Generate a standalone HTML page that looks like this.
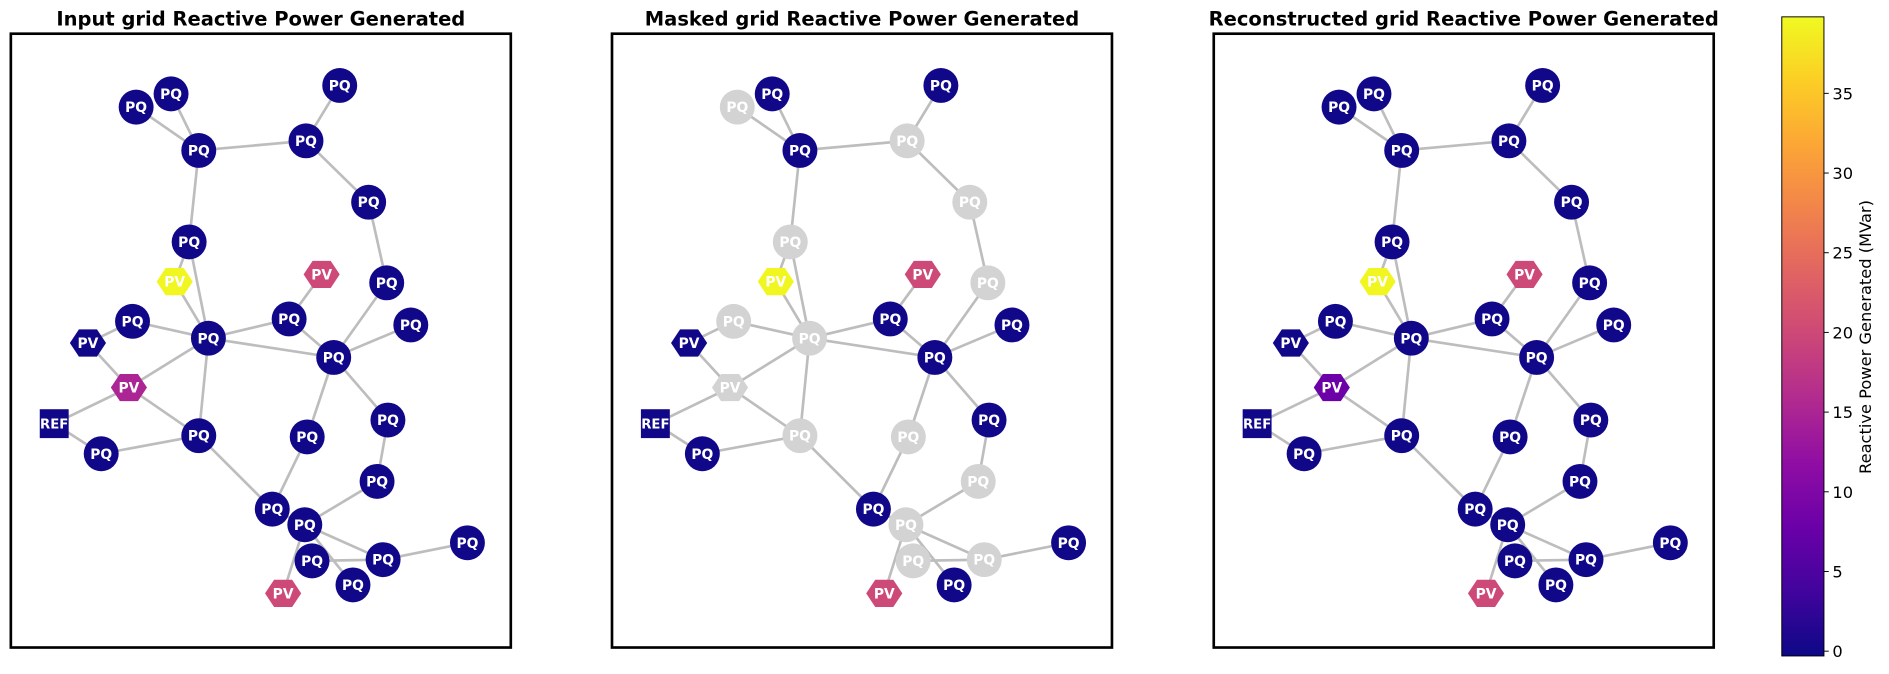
<!DOCTYPE html>
<html><head><meta charset="utf-8"><style>
html,body{margin:0;padding:0;background:#fff;}
svg{display:block;font-family:"DejaVu Sans","Liberation Sans",sans-serif;}
</style></head><body>
<svg id="chart" width="1889" height="674" viewBox="0 0 1568 560" preserveAspectRatio="none" xmlns="http://www.w3.org/2000/svg">
<defs>
<linearGradient id="plasma" x1="0" y1="1" x2="0" y2="0">
<stop offset="0" stop-color="#0d0887"/><stop offset="0.1" stop-color="#41049d"/><stop offset="0.2" stop-color="#6a00a8"/><stop offset="0.3" stop-color="#8f0da4"/><stop offset="0.4" stop-color="#b12a90"/><stop offset="0.5" stop-color="#cc4778"/><stop offset="0.6" stop-color="#e16462"/><stop offset="0.7" stop-color="#f2844b"/><stop offset="0.8" stop-color="#fca636"/><stop offset="0.9" stop-color="#fcce25"/><stop offset="1" stop-color="#f0f921"/>
</linearGradient>
</defs>
<g id="panels"></g>
<g id="cbar"></g>
</svg>
<script>
// node layout in the reference figure (graph layout, not data)
const nodeTypes = ["PQ","PQ","PQ","PQ","PQ","PQ","PQ","PV","PV","PQ","PQ","PV","PQ","PQ","PQ","PQ","PV","REF","PQ","PQ","PQ","PQ","PQ","PQ","PQ","PQ","PQ","PQ","PQ","PV"];
const layoutX = [113,142,165,254,282,306,157,145,267,321,110,73,173,240,341,277,107,45,84,165,255,322,313,226,253,259,318,388,293,235];
const layoutY = [89,78,125,117,71,168,201,234,228,235,267,285,281,265,270,297,322,352,377,362,363,349,400,423,436,466,465,451,486,493];
const edges = [[0,2],[1,2],[2,3],[3,4],[3,5],[2,6],[6,7],[6,12],[7,12],[10,12],[10,11],[11,16],[16,12],[16,17],[16,19],[17,18],[18,19],[12,19],[12,13],[12,15],[13,8],[13,15],[15,9],[9,5],[15,14],[15,20],[15,21],[21,22],[20,23],[19,23],[23,24],[22,24],[24,26],[24,28],[25,26],[26,27],[24,29]];
// reactive power values (MVar); null = masked
const panelTitles = ["Input grid Reactive Power Generated","Masked grid Reactive Power Generated","Reconstructed grid Reactive Power Generated"];
const inputValues = [0,0,0,0,0,0,0,39.5,20,0,0,0,0,0,0,0,15,0,0,0,0,0,0,0,0,0,0,0,0,20];
const maskedValues = [null,0,0,null,0,null,null,39.5,20,null,null,0,null,0,0,0,null,0,0,null,null,0,null,0,null,null,null,0,0,20];
const reconValues = [0,0,0,0,0,0,0,39.5,20,0,0,0,0,0,0,0,8,0,0,0,0,0,0,0,0,0,0,0,0,20];
const cbTicks = [0,5,10,15,20,25,30,35];
const vmin = -0.3, vmax = 39.8;

const stops=[[13,8,135],[65,4,157],[106,0,168],[143,13,164],[177,42,144],[204,71,120],[225,100,98],[242,132,75],[252,166,54],[252,206,37],[240,249,33]];
function plasma(v){let t=(v-vmin)/(vmax-vmin);t=Math.max(0,Math.min(1,t))*10;const i=Math.min(9,Math.floor(t)),f=t-i;const a=stops[i],b=stops[i+1];return `rgb(${a.map((c,k)=>Math.round(c+(b[k]-c)*f)).join(',')})`;}
const NS="http://www.w3.org/2000/svg";
function mk(tag,attrs,parent){const e=document.createElementNS(NS,tag);for(const k in attrs)e.setAttribute(k,attrs[k]);parent.appendChild(e);return e;}
const panels=document.getElementById('panels');
const offsets=[0,499,998.5];
const allVals=[inputValues,maskedValues,reconValues];
const names=['input','masked','reconstructed'];
for(let p=0;p<3;p++){
  const ox=offsets[p];
  const g=mk('g',{},panels);
  
  
  const t=mk('text',{x:216.5+ox,y:21,'text-anchor':'middle','font-size':16.2,'font-weight':'bold',fill:'#000'},g);
  t.textContent=panelTitles[p];
  
  
  const fr=mk('rect',{x:9+ox,y:28,width:415,height:510,fill:'none',stroke:'#000','stroke-width':2.2},g);
  
  
  for(const [a,b] of edges){
    const l=mk('line',{x1:layoutX[a]+ox,y1:layoutY[a],x2:layoutX[b]+ox,y2:layoutY[b],stroke:'#bdbdbd','stroke-width':2.2},g);
    
    
  }
  const vals=allVals[p];
  for(let i=0;i<nodeTypes.length;i++){
    const x=layoutX[i]+ox,y=layoutY[i],v=vals[i];
    const fill=v===null?'#d3d3d3':plasma(v);
    const ng=mk('g',{},g);
    
    
    if(nodeTypes[i]==='PQ') mk('circle',{cx:x,cy:y,r:14.5,fill:fill},ng);
    else if(nodeTypes[i]==='PV'){const r=15,pts=[];for(let k=0;k<6;k++){const an=k*Math.PI/3;pts.push((x+r*Math.cos(an)).toFixed(1)+','+(y+r*0.87*Math.sin(an)).toFixed(1));}mk('polygon',{points:pts.join(' '),fill:fill},ng);}
    else mk('rect',{x:x-12,y:y-12,width:24,height:24,fill:fill},ng);
    const tx=mk('text',{x:x,y:y+4.2,'text-anchor':'middle','font-size':nodeTypes[i]==='REF'?11:11.5,'font-weight':'bold',fill:'#fff'},ng);
    tx.textContent=nodeTypes[i];
  }
}
const cb=document.getElementById('cbar');
const cx0=1479,cw=35,ctop=14,cbot=545;
function cy(v){return cbot-(v-vmin)/(vmax-vmin)*(cbot-ctop);}
mk('rect',{x:cx0,y:ctop,width:cw,height:cbot-ctop,fill:'url(#plasma)',stroke:'#000','stroke-width':0.8},cb);
for(const v of cbTicks){
  const y=cy(v);
  const tk=mk('line',{x1:cx0+cw,y1:y,x2:cx0+cw+4,y2:y,stroke:'#000','stroke-width':0.8},cb);
  
  
  const tl=mk('text',{x:cx0+cw+7,y:y+5,'font-size':13.5,fill:'#000'},cb);
  tl.textContent=v;
  
  
}
const lab=mk('text',{x:1553,y:280,'font-size':13.5,'text-anchor':'middle',fill:'#000',transform:'rotate(-90 1553 280)'},cb);
lab.textContent='Reactive Power Generated (MVar)';


</script>
</body></html>
